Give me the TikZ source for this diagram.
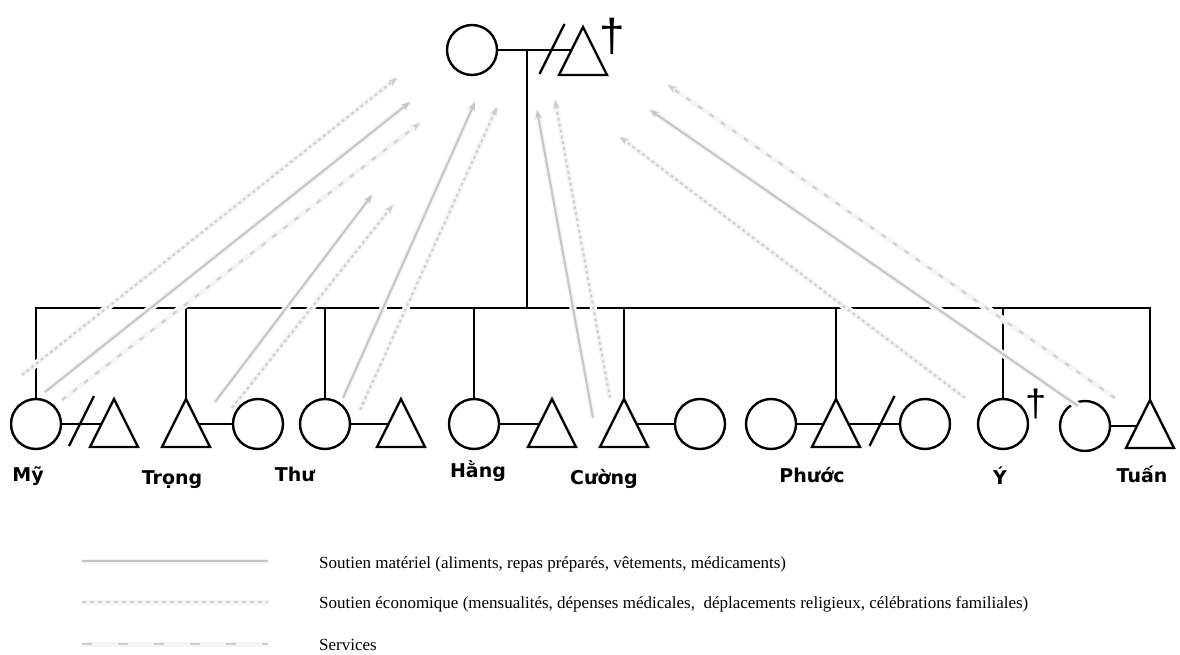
\documentclass[tikz,border=0pt]{standalone}
\usepackage{fontspec}
\setmainfont{Liberation Serif}
\newfontfamily\labfont{DejaVu Sans}
\newfontfamily\dagfont{Liberation Sans}
\usetikzlibrary{shapes.geometric,arrows.meta,backgrounds}

\begin{document}
\begin{tikzpicture}[x=1pt,y=-1pt,
 line width=2.4pt,
 kin/.style={draw=black, line width=2.4pt},
 per/.style={draw=black, line width=2.4pt, fill=white, inner sep=0pt, outer sep=0pt},
 fem/.style={per, circle, minimum size=50pt},
 mal/.style={per, isosceles triangle, shape border rotate=90, isosceles triangle stretches, minimum width=48pt, minimum height=48pt, anchor=apex},
 lab/.style={font=\labfont\bfseries\fontsize{19}{19}\selectfont, anchor=base, inner sep=0pt},
 dagg/.style={font=\dagfont\fontsize{46}{46}\selectfont, anchor=base, inner sep=0pt},
 legt/.style={font=\fontsize{17}{17}\selectfont, anchor=base west, inner sep=0pt},
 supp/.style={-{Stealth[length=9pt,width=7pt]}, line width=2pt,
   preaction={draw=white, line width=7pt, solid, arrows=-},
   preaction={draw=gray!8, line width=5pt, solid, arrows=-}},
 mat/.style={supp, draw=gray!45},
 eco/.style={supp, draw=gray!38, dash pattern=on 3pt off 3pt},
 svc/.style={supp, draw=gray!38, dash pattern=on 5pt off 9pt},
 legline/.style={line width=2pt, preaction={draw=gray!8, line width=5pt, solid}},
]
\useasboundingbox (0,0) rectangle (1180,655);

% parents
\node[fem] (mom) at (472,50) {};
\node[mal] (dad) at (583,27) {};
\node[dagg] (dagdad) at (612,52) {†};

% children row
\node[fem] (my) at (36,424) {};
\node[mal] (myh) at (114,399) {};
\node[mal] (tr) at (186,399) {};
\node[fem] (trw) at (258,424) {};
\node[fem] (th) at (325,424) {};
\node[mal] (thh) at (401,399) {};
\node[fem] (ha) at (474,424) {};
\node[mal] (hah) at (552,399) {};
\node[mal] (cu) at (624,399) {};
\node[fem] (cuw) at (700,424) {};
\node[fem] (phw1) at (771,424) {};
\node[mal] (ph) at (836,399) {};
\node[fem] (phw2) at (925,424) {};
\node[fem] (yy) at (1003,424) {};
\node[fem] (tuw) at (1085,426) {};
\node[mal] (tu) at (1150,400) {};
\node[dagg] (dagy) at (1036,416) {\fontsize{38}{38}\selectfont †};

\coordinate (desc) at (527,308);

\begin{scope}[on background layer]
\begin{scope}[line width=2.4pt]
 % parents marriage and descent
 \draw[kin] (mom.east) -- (mom.east -| dad.apex);
 \draw[kin] (mom.east -| desc) -- (desc);
 % sibship line
 \draw[kin] (my.north) -- (my.north |- desc) -- (tu.apex |- desc) -- (tu.apex);
 \foreach \c in {tr.apex, th.north, ha.north, cu.apex, ph.apex, yy.north}
   \draw[kin] (\c) -- (\c |- desc);
 % marriages
 \draw[kin] (my.east) -- (my.east -| myh.apex);
 \draw[kin] (trw.west) -- (trw.west -| tr.apex);
 \draw[kin] (th.east) -- (th.east -| thh.apex);
 \draw[kin] (ha.east) -- (ha.east -| hah.apex);
 \draw[kin] (cuw.west) -- (cuw.west -| cu.apex);
 \draw[kin] (phw1.east) -- (phw2.west);
 \draw[kin] (tuw.east) -- (tuw.east -| tu.apex);
\end{scope}
\end{scope}

% divorce slashes
\coordinate (s0) at (552,49);
\coordinate (s1) at (81.5,421);
\coordinate (s2) at (882,421);
\foreach \s in {s0,s1,s2}
  \draw[kin] ([shift={(-12.5,25)}]\s) -- ([shift={(12.5,-25)}]\s);

% names
\node[lab] (lmy) at (28,481) {Mỹ};
\node[lab] (ltr) at (172,484) {Trọng};
\node[lab] (lth) at (295,481) {Thư};
\node[lab] (lha) at (478,477) {Hằng};
\node[lab] (lcu) at (604,484) {Cường};
\node[lab] (lph) at (812,482) {Phước};
\node[lab] (ly) at (1000,484) {Ý};
\node[lab] (ltu) at (1142,482) {Tuấn};

% support arrows (child -> parents)
\coordinate (m1s) at (22,375);   \coordinate (m1e) at (397,78);
\coordinate (m2s) at (45,392);   \coordinate (m2e) at (410,102);
\coordinate (m3s) at (62,400);   \coordinate (m3e) at (420,123);
\coordinate (t1s) at (215,402);  \coordinate (t1e) at (372,195);
\coordinate (t2s) at (232,408);  \coordinate (t2e) at (393,205);
\coordinate (h1s) at (343,398);  \coordinate (h1e) at (475,102);
\coordinate (h2s) at (360,410);  \coordinate (h2e) at (497,107);
\coordinate (c1s) at (593,418);  \coordinate (c1e) at (537,110);
\coordinate (c2s) at (610,398);  \coordinate (c2e) at (555,100);
\coordinate (r1s) at (1115,398); \coordinate (r1e) at (668,85);
\coordinate (r2s) at (1078,406); \coordinate (r2e) at (650,110);
\coordinate (r3s) at (965,398);  \coordinate (r3e) at (620,137);

\draw[eco] (m1s) -- (m1e);
\draw[mat] (m2s) -- (m2e);
\draw[svc] (m3s) -- (m3e);
\draw[mat] (t1s) -- (t1e);
\draw[eco] (t2s) -- (t2e);
\draw[mat] (h1s) -- (h1e);
\draw[eco] (h2s) -- (h2e);
\draw[mat] (c1s) -- (c1e);
\draw[eco] (c2s) -- (c2e);
\draw[svc] (r1s) -- (r1e);
\draw[mat] (r2s) -- (r2e);
\draw[eco] (r3s) -- (r3e);

% legend
\coordinate (la1) at (82,561);  \coordinate (lb1) at (268,561);
\coordinate (la2) at (82,602);  \coordinate (lb2) at (268,602);
\coordinate (la3) at (82,644);  \coordinate (lb3) at (268,644);
\draw[legline, draw=gray!45] (la1) -- (lb1);
\draw[legline, draw=gray!38, dash pattern=on 4pt off 4pt] (la2) -- (lb2);
\draw[legline, draw=gray!38, dash pattern=on 10pt off 26pt] (la3) -- (lb3);
\node[legt] (t1) at (318,568) {Soutien matériel (aliments, repas préparés, vêtements, médicaments)};
\node[legt] (t2) at (318,608) {Soutien économique (mensualités, dépenses médicales,\ \ déplacements religieux, célébrations familiales)};
\node[legt] (t3) at (318,650) {Services};
\end{tikzpicture}
\end{document}
